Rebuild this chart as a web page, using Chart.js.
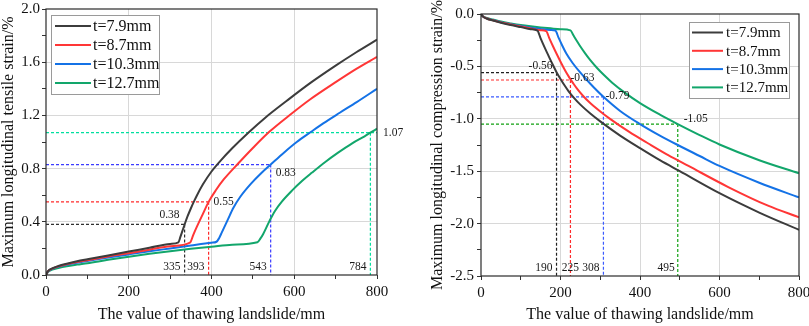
<!DOCTYPE html>
<html>
<head>
<meta charset="utf-8">
<script src="https://cdn.jsdelivr.net/npm/chart.js@4.4.1/dist/chart.umd.min.js"></script>
<style>
  html, body { margin: 0; padding: 0; background: #fff; }
  #wrap { position: relative; width: 809px; height: 326px; overflow: hidden; }
  canvas { position: absolute; top: 0; }
</style>
</head>
<body>
<div id="wrap">
  <canvas id="tensileChart" width="404" height="326" style="left:0"></canvas>
  <canvas id="compressChart" width="405" height="326" style="left:404px"></canvas>
</div>
<script>
const FONT = "'Liberation Serif', 'Times New Roman', serif";

// Series names and colours
const seriesNames = ['t=7.9mm', 't=8.7mm', 't=10.3mm', 't=12.7mm'];
const seriesColors = ['#3c3c3c', '#ff3636', '#1472e6', '#12a66b'];

// Tensile strain (left chart)
const tenX79 = [0, 5, 15, 30, 50, 75, 100, 150, 200, 250, 300, 320, 325, 330, 335, 342, 350, 358, 365, 379, 400, 420, 450, 489, 530, 582, 640, 700, 750, 800];
const tenY79 = [0, 0.03, 0.05, 0.068, 0.085, 0.103, 0.118, 0.147, 0.176, 0.205, 0.234, 0.246, 0.288, 0.334, 0.38, 0.44, 0.5, 0.555, 0.6, 0.68, 0.778, 0.853, 0.953, 1.07, 1.183, 1.31, 1.446, 1.574, 1.675, 1.77];
const tenX87 = [0, 5, 15, 30, 50, 75, 100, 150, 200, 250, 300, 348, 356, 365, 379, 393, 410, 430, 465, 500, 541, 590, 638, 700, 750, 800];
const tenY87 = [0, 0.029, 0.048, 0.065, 0.081, 0.097, 0.111, 0.139, 0.164, 0.19, 0.217, 0.243, 0.302, 0.365, 0.458, 0.55, 0.635, 0.72, 0.84, 0.955, 1.08, 1.205, 1.32, 1.45, 1.55, 1.64];
const tenX103 = [0, 5, 15, 30, 50, 75, 100, 150, 200, 250, 300, 350, 400, 412, 418, 425, 440, 453, 470, 495, 520, 543, 575, 606, 640, 670, 710, 751, 800];
const tenY103 = [0, 0.028, 0.046, 0.062, 0.077, 0.092, 0.105, 0.131, 0.155, 0.178, 0.2, 0.222, 0.243, 0.25, 0.275, 0.32, 0.42, 0.505, 0.59, 0.685, 0.765, 0.83, 0.92, 1.0, 1.075, 1.14, 1.22, 1.3, 1.4];
const tenX127 = [0, 5, 15, 30, 50, 75, 100, 150, 200, 250, 300, 350, 400, 450, 511, 518, 525, 540, 553, 570, 595, 620, 643, 675, 706, 740, 770, 784, 800];
const tenY127 = [0, 0.024, 0.04, 0.053, 0.066, 0.078, 0.089, 0.114, 0.137, 0.159, 0.179, 0.197, 0.213, 0.228, 0.246, 0.273, 0.309, 0.405, 0.48, 0.552, 0.636, 0.71, 0.77, 0.85, 0.92, 0.99, 1.043, 1.07, 1.1];

// Compression strain (right chart)
const cmpX79 = [0, 5, 15, 30, 50, 75, 100, 125, 142, 150, 160, 170, 180, 190, 200, 210, 220, 235, 250, 275, 300, 350, 400, 450, 500, 600, 700, 800];
const cmpY79 = [0, -0.025, -0.045, -0.062, -0.083, -0.105, -0.125, -0.145, -0.158, -0.232, -0.318, -0.4, -0.48, -0.555, -0.62, -0.68, -0.735, -0.805, -0.865, -0.95, -1.025, -1.16, -1.28, -1.395, -1.5, -1.71, -1.895, -2.06];
const cmpX87 = [0, 5, 15, 30, 50, 75, 100, 125, 150, 164, 172, 182, 192, 202, 212, 222, 232, 242, 257, 272, 297, 322, 372, 422, 472, 522, 622, 722, 800];
const cmpY87 = [0, -0.024, -0.043, -0.06, -0.08, -0.1, -0.12, -0.138, -0.155, -0.164, -0.232, -0.315, -0.394, -0.47, -0.542, -0.605, -0.662, -0.715, -0.782, -0.84, -0.921, -0.994, -1.123, -1.238, -1.349, -1.45, -1.651, -1.829, -1.94];
const cmpX103 = [0, 5, 15, 30, 50, 75, 100, 125, 150, 175, 187, 195, 204, 215, 230, 250, 275, 308, 350, 400, 450, 495, 550, 600, 700, 800];
const cmpY103 = [0, -0.023, -0.042, -0.058, -0.078, -0.097, -0.115, -0.13, -0.143, -0.153, -0.158, -0.225, -0.298, -0.38, -0.465, -0.56, -0.665, -0.79, -0.925, -1.05, -1.16, -1.25, -1.355, -1.45, -1.61, -1.75];
const cmpX127 = [0, 5, 15, 30, 50, 75, 100, 125, 150, 175, 200, 225, 232, 240, 250, 262, 276, 292, 310, 330, 360, 400, 450, 495, 550, 600, 700, 800];
const cmpY127 = [0, -0.021, -0.038, -0.053, -0.072, -0.09, -0.106, -0.118, -0.128, -0.137, -0.145, -0.156, -0.2, -0.25, -0.31, -0.375, -0.445, -0.515, -0.585, -0.655, -0.745, -0.85, -0.96, -1.05, -1.155, -1.245, -1.395, -1.52];

// Marked points (dashed guide lines)
const tenMarkX = [335, 393, 543, 784];
const tenMarkY = [0.38, 0.55, 0.83, 1.07];
const cmpMarkX = [190, 225, 308, 495];
const cmpMarkY = [-0.56, -0.63, -0.79, -1.05];

// Labelled ticks
const xTicks = [0, 200, 400, 600, 800];
const tenYTicks = [0, 0.4, 0.8, 1.2, 1.6, 2.0];
const cmpYTicks = [-2.5, -2.0, -1.5, -1.0, -0.5, 0];

const near = (v, list) => list.some(t => Math.abs(t - v) < 1e-6);
const pts = (xs, ys) => xs.map((x, i) => ({ x: x, y: ys[i] }));

function seriesSets(lists) {
  return lists.map((l, i) => ({
    label: seriesNames[i],
    data: pts(l[0], l[1]),
    borderColor: seriesColors[i],
    borderWidth: 2,
    pointRadius: 0,
    cubicInterpolationMode: 'monotone',
    fill: false
  }));
}

function guideSet(data, color) {
  return {
    label: '',
    data: data,
    borderColor: color,
    borderWidth: 1.2,
    borderDash: [3, 2],
    pointRadius: 0,
    tension: 0,
    fill: false
  };
}

// Frame, value labels and legend drawn on top of the plot
const overlay = {
  id: 'overlay',
  afterDatasetsDraw(chart, args, opts) {
    const ctx = chart.ctx;
    const a = chart.chartArea;
    const xs = chart.scales.x, ys = chart.scales.y;
    ctx.save();
    ctx.strokeStyle = '#2a2a2a';
    ctx.lineWidth = 1.2;
    ctx.strokeRect(a.left, a.top, a.right - a.left, a.bottom - a.top);

    ctx.font = opts.labelSize + 'px ' + FONT;
    ctx.fillStyle = '#1a1a1a';
    ctx.textBaseline = 'middle';
    opts.labels.forEach(l => {
      ctx.textAlign = l.align;
      ctx.fillText(l.text, xs.getPixelForValue(l.x) + l.dx, ys.getPixelForValue(l.y) + l.dy);
    });

    // legend box
    const lg = opts.legend;
    const bx = lg.side === 'left' ? a.left + lg.dx : a.right - lg.dx - lg.w;
    const by = a.top + lg.dy;
    ctx.fillStyle = '#fff';
    ctx.fillRect(bx, by, lg.w, lg.h);
    ctx.strokeStyle = '#9a9a9a';
    ctx.lineWidth = 1;
    ctx.strokeRect(bx + 0.5, by + 0.5, lg.w, lg.h);
    ctx.font = lg.size + 'px ' + FONT;
    ctx.textAlign = 'left';
    seriesNames.forEach((name, i) => {
      const yy = by + lg.first + i * lg.row;
      ctx.strokeStyle = seriesColors[i];
      ctx.lineWidth = 2;
      ctx.beginPath();
      ctx.moveTo(bx + lg.line0, yy);
      ctx.lineTo(bx + lg.line1, yy);
      ctx.stroke();
      ctx.fillStyle = '#111';
      ctx.fillText(name, bx + lg.text, yy + 1);
    });
    ctx.restore();
  }
};

function xScale(h) {
  return {
    type: 'linear', min: 0, max: 800,
    ticks: {
      stepSize: 100, autoSkip: false, maxRotation: 0, padding: 4, color: '#111',
      font: { family: FONT, size: 15 },
      callback: v => near(v, xTicks) ? String(v) : ''
    },
    grid: {
      color: c => (near(c.tick.value, xTicks) && c.tick.value > 0 && c.tick.value < 800) ? '#d8d8d8' : 'rgba(0,0,0,0)',
      tickColor: '#333', tickLength: 4, lineWidth: 1
    },
    border: { display: false },
    title: {
      display: true, text: 'The value of thawing landslide/mm', color: '#111',
      font: { family: FONT, size: 16, lineHeight: 1 }, padding: { top: 0, bottom: 3 }
    },
    afterFit: s => { s.height = h; s.paddingLeft = 0; s.paddingRight = 0; }
  };
}

function yScale(min, max, step, labelled, title, w, titlePad, labelPad) {
  return {
    type: 'linear', min: min, max: max,
    ticks: {
      stepSize: step, autoSkip: false, padding: labelPad, color: '#111',
      font: { family: FONT, size: 15 },
      callback: v => near(v, labelled) ? v.toFixed(1) : ''
    },
    grid: {
      color: c => (near(c.tick.value, labelled) && c.tick.value > min && c.tick.value < max) ? '#d8d8d8' : 'rgba(0,0,0,0)',
      tickColor: '#333', tickLength: 4, lineWidth: 1
    },
    border: { display: false },
    title: {
      display: true, text: title, color: '#111',
      font: { family: FONT, size: 16, lineHeight: 1 }, padding: { top: titlePad, bottom: 0 }
    },
    afterFit: s => { s.width = w; s.paddingTop = 0; s.paddingBottom = 0; }
  };
}

// Left: tensile strain
const tenGuideColors = ['#303030', '#ff2a2a', '#3b3bff', '#00e0a0'];
const tenGuides = [];
tenMarkX.forEach((mx, i) => {
  const xEnd = i === 3 ? 800 : mx;
  tenGuides.push(guideSet([{ x: 0, y: tenMarkY[i] }, { x: xEnd, y: tenMarkY[i] }], tenGuideColors[i]));
  tenGuides.push(guideSet([{ x: mx, y: tenMarkY[i] }, { x: mx, y: 0 }], tenGuideColors[i]));
});

new Chart(document.getElementById('tensileChart'), {
  type: 'line',
  data: {
    datasets: seriesSets([[tenX79, tenY79], [tenX87, tenY87], [tenX103, tenY103], [tenX127, tenY127]]).concat(tenGuides)
  },
  options: {
    responsive: false,
    animation: false,
    layout: { padding: { top: 9, right: 27, left: 0, bottom: 0 } },
    scales: {
      x: xScale(51),
      y: yScale(0, 2.0, 0.2, tenYTicks, 'Maximum longitudinal tensile strain/%', 46, 1, 2)
    },
    plugins: {
      legend: { display: false },
      tooltip: { enabled: false },
      overlay: {
        labelSize: 11.5,
        labels: [
          { text: tenMarkY[0].toFixed(2), x: tenMarkX[0], y: tenMarkY[0], align: 'right', dx: -5, dy: -9 },
          { text: tenMarkY[1].toFixed(2), x: tenMarkX[1], y: tenMarkY[1], align: 'left', dx: 5, dy: 0 },
          { text: tenMarkY[2].toFixed(2), x: tenMarkX[2], y: tenMarkY[2], align: 'left', dx: 5, dy: 8 },
          { text: tenMarkY[3].toFixed(2), x: 800, y: tenMarkY[3], align: 'left', dx: 6, dy: 0 },
          { text: String(tenMarkX[0]), x: tenMarkX[0], y: 0, align: 'right', dx: -4, dy: -8 },
          { text: String(tenMarkX[1]), x: tenMarkX[1], y: 0, align: 'right', dx: -4, dy: -8 },
          { text: String(tenMarkX[2]), x: tenMarkX[2], y: 0, align: 'right', dx: -4, dy: -8 },
          { text: String(tenMarkX[3]), x: tenMarkX[3], y: 0, align: 'right', dx: -4, dy: -8 }
        ],
        legend: { side: 'left', dx: 5, dy: 6, w: 108, h: 79, first: 11, row: 19, line0: 4, line1: 40, text: 42, size: 16 }
      }
    }
  },
  plugins: [overlay]
});

// Right: compression strain
const cmpGuideColors = ['#202020', '#ff2a2a', '#3b5bff', '#10a010'];
const cmpGuides = [];
cmpMarkX.forEach((mx, i) => {
  cmpGuides.push(guideSet([{ x: 0, y: cmpMarkY[i] }, { x: mx, y: cmpMarkY[i] }], cmpGuideColors[i]));
  cmpGuides.push(guideSet([{ x: mx, y: cmpMarkY[i] }, { x: mx, y: -2.5 }], cmpGuideColors[i]));
});

new Chart(document.getElementById('compressChart'), {
  type: 'line',
  data: {
    datasets: seriesSets([[cmpX79, cmpY79], [cmpX87, cmpY87], [cmpX103, cmpY103], [cmpX127, cmpY127]]).concat(cmpGuides)
  },
  options: {
    responsive: false,
    animation: false,
    layout: { padding: { top: 14, right: 10, left: 0, bottom: 0 } },
    scales: {
      x: xScale(50),
      y: yScale(-2.5, 0, 0.25, cmpYTicks, 'Maximum longitudinal compression strain/%', 77, 26, 3)
    },
    plugins: {
      legend: { display: false },
      tooltip: { enabled: false },
      overlay: {
        labelSize: 11.5,
        labels: [
          { text: cmpMarkY[0].toFixed(2), x: cmpMarkX[0], y: cmpMarkY[0], align: 'right', dx: -4, dy: -7 },
          { text: cmpMarkY[1].toFixed(2), x: cmpMarkX[1], y: cmpMarkY[1], align: 'left', dx: 0, dy: -2 },
          { text: cmpMarkY[2].toFixed(2), x: cmpMarkX[2], y: cmpMarkY[2], align: 'left', dx: 2, dy: -1 },
          { text: cmpMarkY[3].toFixed(2), x: cmpMarkX[3], y: cmpMarkY[3], align: 'left', dx: 6, dy: -5 },
          { text: String(cmpMarkX[0]), x: cmpMarkX[0], y: -2.5, align: 'right', dx: -4, dy: -8.5 },
          { text: String(cmpMarkX[1]), x: cmpMarkX[1], y: -2.5, align: 'center', dx: 0, dy: -8.5 },
          { text: String(cmpMarkX[2]), x: cmpMarkX[2], y: -2.5, align: 'right', dx: -4, dy: -8.5 },
          { text: String(cmpMarkX[3]), x: cmpMarkX[3], y: -2.5, align: 'right', dx: -3, dy: -8.5 }
        ],
        legend: { side: 'right', dx: 10, dy: 8, w: 100, h: 76, first: 10.5, row: 18.3, line0: 3, line1: 34, text: 37, size: 15 }
      }
    }
  },
  plugins: [overlay]
});
</script>
</body>
</html>
